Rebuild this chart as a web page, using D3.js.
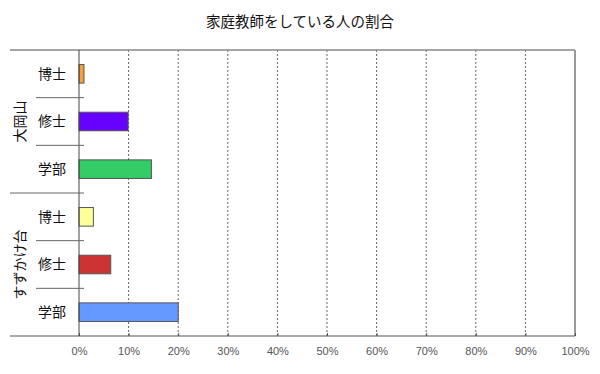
<!DOCTYPE html>
<html>
<head>
<meta charset="utf-8">
<style>
body { margin: 0; background: #fff; }
svg { font-family: "Noto Sans CJK JP", sans-serif; }
.grid line { stroke: #666; stroke-dasharray: 2,2; }
.tick-label { fill: #555; font-size: 11px; font-family: "Liberation Sans", Arial, sans-serif; }
.cat { fill: #111; font-size: 14px; }
</style>
</head>
<body>
<script src="https://cdn.jsdelivr.net/npm/d3@7"></script>
<script>

var title = "家庭教師をしている人の割合";
var groups = ["大岡山", "すずかけ台"];
var degrees = ["博士", "修士", "学部"];
var ookayama = [1.0, 9.9, 14.6];
var suzukake = [2.9, 6.4, 20.0];
var colors = ["#f7a03c", "#6600ff", "#33cc66", "#ffff99", "#cc3333", "#6699ff"];
var xTicks = [0, 10, 20, 30, 40, 50, 60, 70, 80, 90, 100];

var width = 600, height = 374;
var plotL = 79, plotR = 575, plotT = 50, plotB = 336;

// one row per bar, groups stacked top to bottom
var rows = [];
[ookayama, suzukake].forEach(function(vals, g) {
  vals.forEach(function(v, i) {
    rows.push({ group: groups[g], g: g, degree: degrees[i], value: v, idx: rows.length });
  });
});

var x = d3.scaleLinear().domain([0, 100]).range([plotL, plotR]);
var y = d3.scaleBand()
    .domain(rows.map(function(d) { return d.idx; }))
    .range([plotT, plotB])
    .paddingInner(0.61)
    .paddingOuter(0.305);

var svg = d3.select("body").append("svg")
    .attr("width", width)
    .attr("height", height);

svg.append("text")
    .attr("x", 300)
    .attr("y", 27)
    .attr("text-anchor", "middle")
    .style("font-size", "14.5px")
    .style("fill", "#111")
    .text(title);

// dotted gridlines
svg.append("g").attr("class", "grid")
  .selectAll("line")
  .data(xTicks.slice(1, -1))
  .enter().append("line")
    .attr("x1", function(d) { return x(d); })
    .attr("x2", function(d) { return x(d); })
    .attr("y1", plotT)
    .attr("y2", plotB);

// frame lines
svg.append("line").attr("x1", 10).attr("x2", plotR).attr("y1", plotT).attr("y2", plotT)
    .attr("stroke", "#888").attr("stroke-width", 1.5);
svg.append("line").attr("x1", plotR).attr("x2", plotR).attr("y1", plotT).attr("y2", plotB)
    .attr("stroke", "#999").attr("stroke-width", 2);

// bottom axis
var xAxis = d3.axisBottom(x)
    .tickValues(xTicks)
    .tickSize(-3)
    .tickFormat(function(d) { return d + "%"; });

var ax = svg.append("g")
    .attr("transform", "translate(0," + plotB + ")")
    .call(xAxis);
ax.select(".domain").remove();
ax.selectAll(".tick line").attr("stroke", "#555");
ax.selectAll(".tick text")
    .attr("class", "tick-label")
    .attr("y", 15)
    .attr("dy", "0.32em");
svg.append("line").attr("x1", 10).attr("x2", plotR).attr("y1", plotB).attr("y2", plotB)
    .attr("stroke", "#555").attr("stroke-width", 1.2);

// bars
svg.selectAll(".bar")
    .data(rows)
    .enter().append("rect")
    .attr("class", "bar")
    .attr("x", x(0))
    .attr("y", function(d) { return y(d.idx); })
    .attr("width", function(d) { return x(d.value) - x(0); })
    .attr("height", y.bandwidth())
    .attr("fill", function(d) { return colors[d.idx]; })
    .attr("stroke", "#555")
    .attr("stroke-width", 1);

// left axis line
svg.append("line").attr("x1", plotL).attr("x2", plotL).attr("y1", plotT).attr("y2", plotB)
    .attr("stroke", "#444").attr("stroke-width", 1);

// row separators
var step = y.step();
for (var k = 1; k < rows.length; k++) {
  var yy = plotT + k * step;
  var groupEdge = (k % degrees.length === 0);
  svg.append("line")
      .attr("x1", groupEdge ? 10 : 36)
      .attr("x2", plotL + 5)
      .attr("y1", yy)
      .attr("y2", yy)
      .attr("stroke", "#666")
      .attr("stroke-width", 1);
}

// category labels
svg.selectAll(".cat")
    .data(rows)
    .enter().append("text")
    .attr("class", "cat")
    .attr("x", 52)
    .attr("y", function(d) { return y(d.idx) + y.bandwidth() / 2; })
    .attr("dy", "0.35em")
    .attr("text-anchor", "middle")
    .text(function(d) { return d.degree; });

// group labels, vertical
groups.forEach(function(gname, g) {
  var y0 = plotT + g * degrees.length * step;
  var y1 = y0 + degrees.length * step;
  svg.append("text")
      .attr("class", "cat")
      .attr("transform", "translate(20," + ((y0 + y1) / 2) + ") rotate(-90)")
      .attr("text-anchor", "middle")
      .attr("dy", "0.35em")
      .text(gname);
});

</script>
</body>
</html>
